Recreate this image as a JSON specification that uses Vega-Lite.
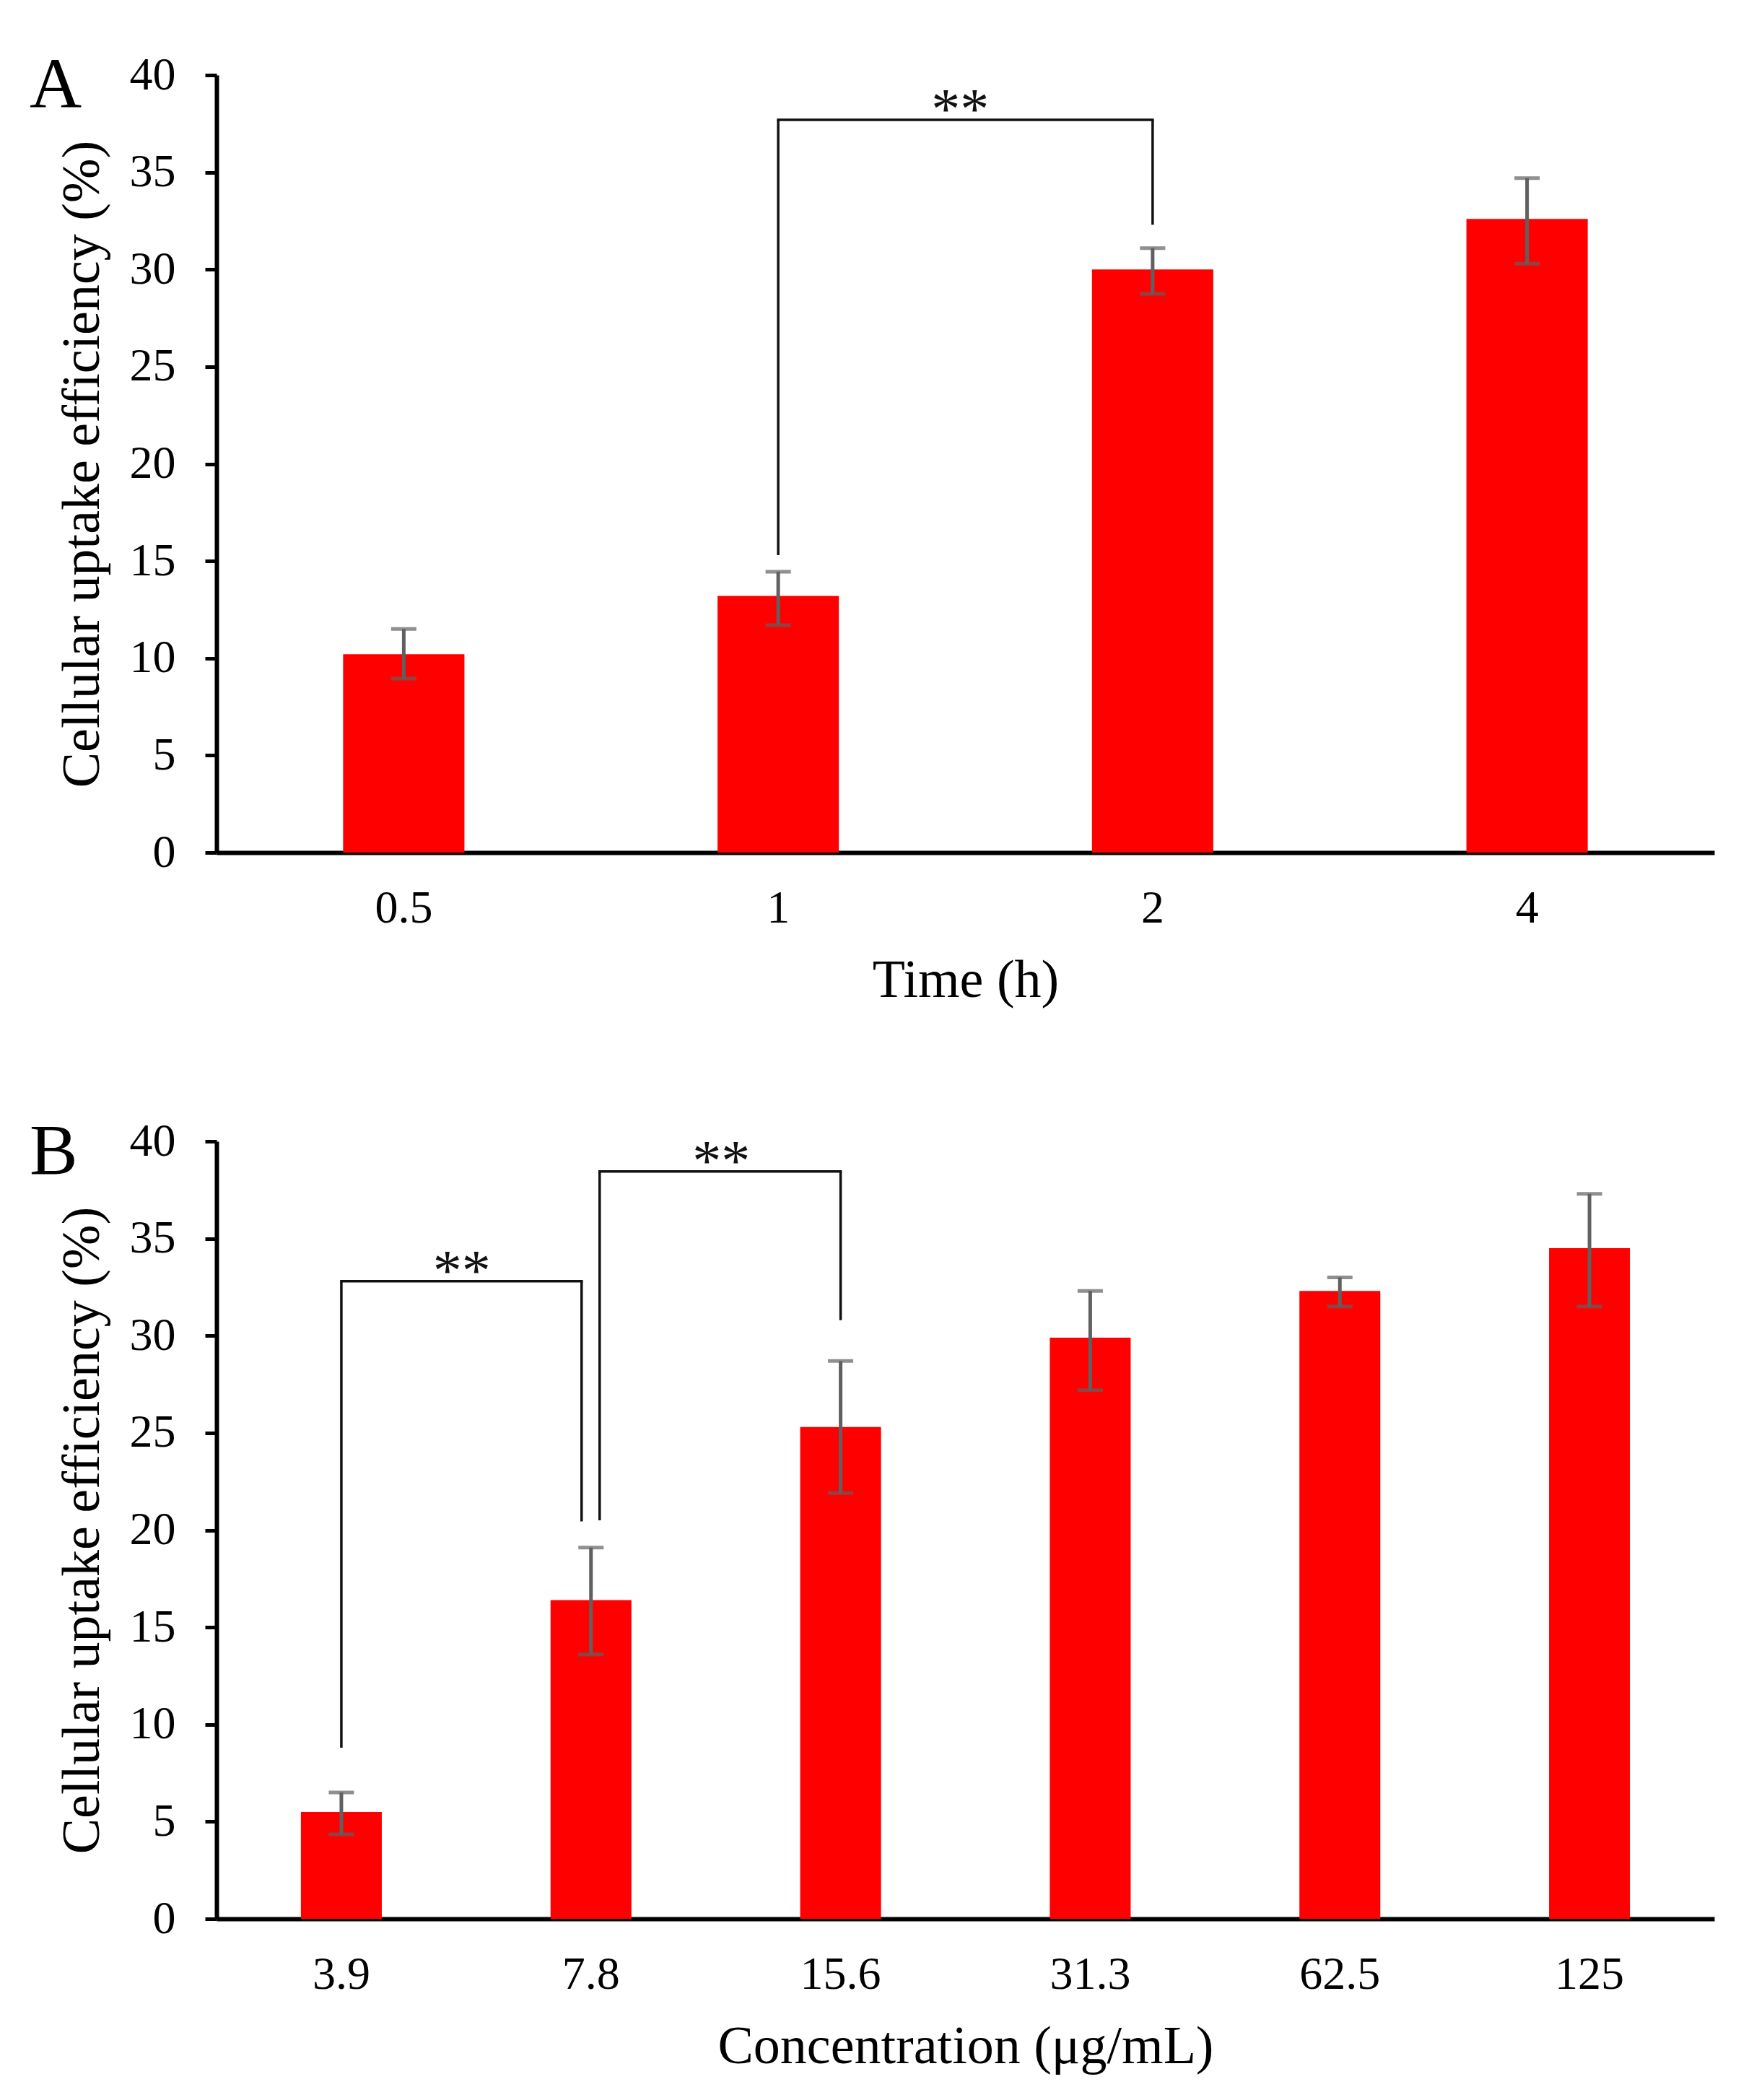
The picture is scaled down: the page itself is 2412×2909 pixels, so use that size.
{
  "$schema": "https://vega.github.io/schema/vega-lite/v6.json",
  "background": "white",
  "padding": {"left": 41, "top": 69, "right": 20, "bottom": 10},
  "spacing": 151,
  "datasets": {
    "timeBars": [
      {"time": "0.5", "mean": 10.2, "lo": 8.95, "hi": 11.5},
      {"time": "1", "mean": 13.2, "lo": 11.7, "hi": 14.45},
      {"time": "2", "mean": 30.0, "lo": 28.75, "hi": 31.1},
      {"time": "4", "mean": 32.6, "lo": 30.3, "hi": 34.7}
    ],
    "timeBracket": [
      {"from": "1", "to": "2", "top": 37.7, "fromEnd": 15.3, "toEnd": 32.3}
    ],
    "concBars": [
      {"conc": "3.9", "mean": 5.5, "lo": 4.35, "hi": 6.5},
      {"conc": "7.8", "mean": 16.4, "lo": 13.6, "hi": 19.1},
      {"conc": "15.6", "mean": 25.3, "lo": 21.9, "hi": 28.7},
      {"conc": "31.3", "mean": 29.9, "lo": 27.2, "hi": 32.3},
      {"conc": "62.5", "mean": 32.3, "lo": 31.5, "hi": 33.0},
      {"conc": "125", "mean": 34.5, "lo": 31.5, "hi": 37.3}
    ],
    "concBracket1": [
      {"from": "3.9", "to": "7.8", "top": 32.8, "fromEnd": 8.8, "toEnd": 20.45}
    ],
    "concBracket2": [
      {"from": "7.8", "to": "15.6", "top": 38.45, "fromEnd": 20.5, "toEnd": 30.8}
    ]
  },
  "vconcat": [
    {
      "width": 2075,
      "height": 1077,
      "title": {"text": "A", "dx": -259, "dy": 102},
      "layer": [
        {
          "data": {"name": "timeBars"},
          "mark": {"type": "bar", "color": "#ff0000"},
          "encoding": {
            "x": {
              "field": "time",
              "type": "nominal",
              "sort": null,
              "scale": {"domain": ["0.5", "1", "2", "4"], "paddingInner": 0.676, "paddingOuter": 0.338},
              "axis": {"title": "Time (h)"}
            },
            "y": {
              "field": "mean",
              "type": "quantitative",
              "scale": {"domain": [0, 40], "nice": false},
              "axis": {"title": "Cellular uptake efficiency (%)", "values": [0, 5, 10, 15, 20, 25, 30, 35, 40]}
            }
          }
        },
        {
          "data": {"name": "timeBars"},
          "mark": {"type": "rule", "color": "#606060", "strokeWidth": 5},
          "encoding": {
            "x": {"field": "time", "type": "nominal"},
            "y": {"field": "lo", "type": "quantitative"},
            "y2": {"field": "hi"}
          }
        },
        {
          "data": {"name": "timeBars"},
          "mark": {"type": "tick", "color": "#606060", "size": 35, "thickness": 5},
          "encoding": {
            "x": {"field": "time", "type": "nominal"},
            "y": {"field": "lo", "type": "quantitative"}
          }
        },
        {
          "data": {"name": "timeBars"},
          "mark": {"type": "tick", "color": "#606060", "size": 35, "thickness": 5},
          "encoding": {
            "x": {"field": "time", "type": "nominal"},
            "y": {"field": "hi", "type": "quantitative"}
          }
        },
        {
          "data": {"name": "timeBracket"},
          "mark": {"type": "rule", "color": "#111111", "strokeWidth": 3.5},
          "encoding": {
            "x": {"field": "from", "type": "nominal"},
            "y": {"field": "fromEnd", "type": "quantitative"},
            "y2": {"field": "top"}
          }
        },
        {
          "data": {"name": "timeBracket"},
          "mark": {"type": "rule", "color": "#111111", "strokeWidth": 3.5},
          "encoding": {
            "x": {"field": "to", "type": "nominal"},
            "y": {"field": "toEnd", "type": "quantitative"},
            "y2": {"field": "top"}
          }
        },
        {
          "data": {"name": "timeBracket"},
          "mark": {"type": "rule", "color": "#111111", "strokeWidth": 3.5, "strokeCap": "square"},
          "encoding": {
            "x": {"field": "from", "type": "nominal"},
            "x2": {"field": "to"},
            "y": {"field": "top", "type": "quantitative"}
          }
        },
        {
          "data": {"name": "timeBracket"},
          "mark": {"type": "text", "text": "**", "font": "Liberation Serif", "fontSize": 80, "color": "#111111", "baseline": "alphabetic", "dy": 12},
          "encoding": {
            "x": {"field": "from", "type": "nominal", "bandPosition": 2.0},
            "y": {"field": "top", "type": "quantitative"}
          }
        }
      ]
    },
    {
      "width": 2075,
      "height": 1077,
      "title": {"text": "B", "dx": -259, "dy": 102},
      "layer": [
        {
          "data": {"name": "concBars"},
          "mark": {"type": "bar", "color": "#ff0000"},
          "encoding": {
            "x": {
              "field": "conc",
              "type": "nominal",
              "sort": null,
              "scale": {"domain": ["3.9", "7.8", "15.6", "31.3", "62.5", "125"], "paddingInner": 0.676, "paddingOuter": 0.338},
              "axis": {"title": "Concentration (μg/mL)"}
            },
            "y": {
              "field": "mean",
              "type": "quantitative",
              "scale": {"domain": [0, 40], "nice": false},
              "axis": {"title": "Cellular uptake efficiency (%)", "values": [0, 5, 10, 15, 20, 25, 30, 35, 40]}
            }
          }
        },
        {
          "data": {"name": "concBars"},
          "mark": {"type": "rule", "color": "#606060", "strokeWidth": 5},
          "encoding": {
            "x": {"field": "conc", "type": "nominal"},
            "y": {"field": "lo", "type": "quantitative"},
            "y2": {"field": "hi"}
          }
        },
        {
          "data": {"name": "concBars"},
          "mark": {"type": "tick", "color": "#606060", "size": 35, "thickness": 5},
          "encoding": {
            "x": {"field": "conc", "type": "nominal"},
            "y": {"field": "lo", "type": "quantitative"}
          }
        },
        {
          "data": {"name": "concBars"},
          "mark": {"type": "tick", "color": "#606060", "size": 35, "thickness": 5},
          "encoding": {
            "x": {"field": "conc", "type": "nominal"},
            "y": {"field": "hi", "type": "quantitative"}
          }
        },
        {
          "data": {"name": "concBracket1"},
          "mark": {"type": "rule", "color": "#111111", "strokeWidth": 3.5},
          "encoding": {
            "x": {"field": "from", "type": "nominal"},
            "y": {"field": "fromEnd", "type": "quantitative"},
            "y2": {"field": "top"}
          }
        },
        {
          "data": {"name": "concBracket1"},
          "mark": {"type": "rule", "color": "#111111", "strokeWidth": 3.5, "xOffset": -13},
          "encoding": {
            "x": {"field": "to", "type": "nominal"},
            "y": {"field": "toEnd", "type": "quantitative"},
            "y2": {"field": "top"}
          }
        },
        {
          "data": {"name": "concBracket1"},
          "mark": {"type": "rule", "color": "#111111", "strokeWidth": 3.5, "strokeCap": "square", "x2Offset": -13},
          "encoding": {
            "x": {"field": "from", "type": "nominal"},
            "x2": {"field": "to"},
            "y": {"field": "top", "type": "quantitative"}
          }
        },
        {
          "data": {"name": "concBracket1"},
          "mark": {"type": "text", "text": "**", "font": "Liberation Serif", "fontSize": 80, "color": "#111111", "baseline": "alphabetic", "dy": 12},
          "encoding": {
            "x": {"field": "from", "type": "nominal", "bandPosition": 1.99},
            "y": {"field": "top", "type": "quantitative"}
          }
        },
        {
          "data": {"name": "concBracket2"},
          "mark": {"type": "rule", "color": "#111111", "strokeWidth": 3.5, "xOffset": 12},
          "encoding": {
            "x": {"field": "from", "type": "nominal"},
            "y": {"field": "fromEnd", "type": "quantitative"},
            "y2": {"field": "top"}
          }
        },
        {
          "data": {"name": "concBracket2"},
          "mark": {"type": "rule", "color": "#111111", "strokeWidth": 3.5},
          "encoding": {
            "x": {"field": "to", "type": "nominal"},
            "y": {"field": "toEnd", "type": "quantitative"},
            "y2": {"field": "top"}
          }
        },
        {
          "data": {"name": "concBracket2"},
          "mark": {"type": "rule", "color": "#111111", "strokeWidth": 3.5, "strokeCap": "square", "xOffset": 12},
          "encoding": {
            "x": {"field": "from", "type": "nominal"},
            "x2": {"field": "to"},
            "y": {"field": "top", "type": "quantitative"}
          }
        },
        {
          "data": {"name": "concBracket2"},
          "mark": {"type": "text", "text": "**", "font": "Liberation Serif", "fontSize": 80, "color": "#111111", "baseline": "alphabetic", "dy": 12},
          "encoding": {
            "x": {"field": "from", "type": "nominal", "bandPosition": 2.11},
            "y": {"field": "top", "type": "quantitative"}
          }
        }
      ]
    }
  ],
  "config": {
    "view": {"stroke": null},
    "axis": {
      "grid": false,
      "domainColor": "#000000",
      "domainWidth": 6,
      "labelColor": "#000000",
      "titleColor": "#000000",
      "labelFont": "Liberation Serif",
      "titleFont": "Liberation Serif",
      "titleFontWeight": "normal",
      "labelFontSize": 64,
      "titleFontSize": 74
    },
    "axisX": {"ticks": false, "tickSize": 0, "labelPadding": 45, "titlePadding": 32, "labelAngle": 0},
    "axisY": {"tickColor": "#000000", "tickWidth": 5, "tickSize": 16, "labelPadding": 41, "titlePadding": 27},
    "title": {
      "anchor": "start",
      "frame": "group",
      "font": "Liberation Serif",
      "fontSize": 100,
      "fontWeight": "normal",
      "color": "#000000",
      "baseline": "alphabetic",
      "offset": 0
    }
  }
}
